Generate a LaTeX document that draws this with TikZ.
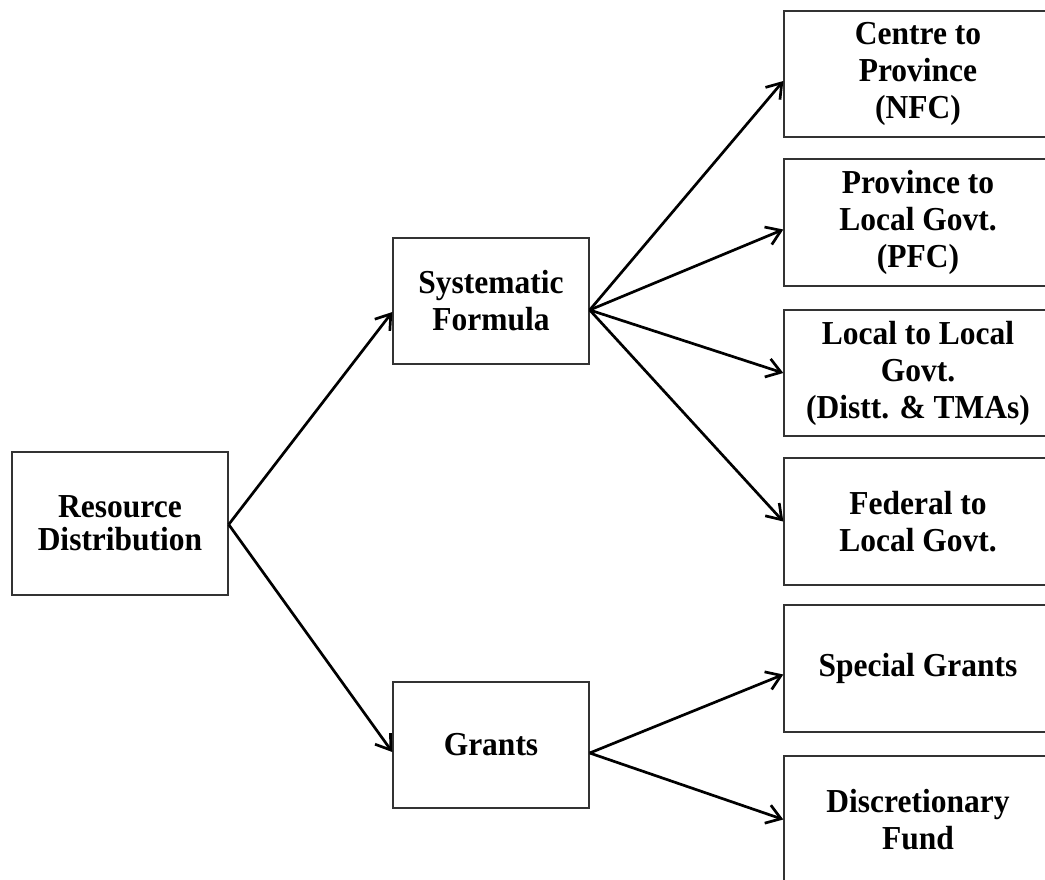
\documentclass[tikz,border=0pt]{standalone}
\usepackage{fontspec}
\setmainfont{Liberation Serif}[FakeStretch=0.94]
\usetikzlibrary{arrows.meta}
\tikzset{
  box/.style={draw=black!80, line width=1.4pt, align=center, inner sep=0pt,
    font=\bfseries\fontsize{33.5}{37}\selectfont},
  conn/.style={line width=2.7pt, -{Straight Barb[length=14pt,width=19pt,line width=2.7pt]}}
}
\begin{document}
\begin{tikzpicture}[x=1pt,y=-1pt]
\clip (0,0) rectangle (1045,879);
\fill[white] (0,0) rectangle (1045,879);
\node[box, minimum width=216pt, minimum height=143pt,
  font=\bfseries\fontsize{33.5}{33}\selectfont] (res) at (120,523.5) {Resource\\Distribution};
\node[box, minimum width=196pt, minimum height=126pt] (sys) at (491,301) {Systematic\\Formula};
\node[box, minimum width=196pt, minimum height=126pt] (gr) at (491,745) {Grants};
\node[box, minimum width=268pt, minimum height=126pt] (c1) at (918,74) {Centre to\\Province\\(NFC)};
\node[box, minimum width=268pt, minimum height=127pt] (c2) at (918,222.5) {Province to\\Local Govt.\\(PFC)};
\node[box, minimum width=268pt, minimum height=126pt] (c3) at (918,373) {Local to Local\\Govt.\\(Distt. \& TMAs)};
\node[box, minimum width=268pt, minimum height=127pt] (c4) at (918,521.5) {Federal to\\Local Govt.};
\node[box, minimum width=268pt, minimum height=127pt] (c5) at (918,668.5) {Special Grants};
\node[box, minimum width=268pt, minimum height=127pt] (c6) at (918,819.5) {Discretionary\\Fund};
\draw[conn] ([yshift=-1pt]res.east) -- ([yshift=-11pt]sys.west);
\draw[conn] ([yshift=-1pt]res.east) -- ([yshift=-7pt]gr.west);
\draw[conn] ([yshift=-9pt]sys.east) -- ([yshift=-7pt]c1.west);
\draw[conn] ([yshift=-9pt]sys.east) -- ([yshift=-7pt]c2.west);
\draw[conn] ([yshift=-9pt]sys.east) -- (c3.west);
\draw[conn] ([yshift=-9pt]sys.east) -- (c4.west);
\draw[conn] ([yshift=-8pt]gr.east) -- ([yshift=-6pt]c5.west);
\draw[conn] ([yshift=-8pt]gr.east) -- (c6.west);
\end{tikzpicture}
\end{document}
